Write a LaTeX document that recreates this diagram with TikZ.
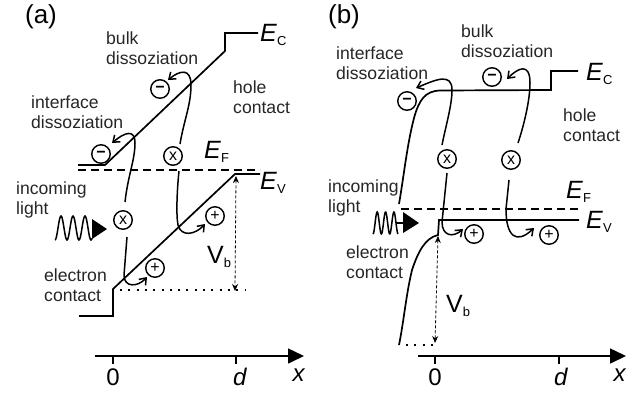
\documentclass[tikz,border=0pt]{standalone}
\usepackage{fontspec}
\setmainfont{Liberation Sans}
\usetikzlibrary{arrows.meta,positioning,calc}
\tikzset{
    band/.style={line width=1.7pt},
    level/.style={line width=1.5pt,dash pattern=on 8pt off 5pt},
    rest/.style={line width=1.7pt,dash pattern=on 2pt off 6.3pt},
    carrier/.style={line width=1.5pt,-{Straight Barb[length=6pt,width=9pt]}},
    exciton/.style={line width=1.5pt},
    bias/.style={line width=0.8pt,densely dashed,{Stealth[length=7pt,width=6pt]}-{Stealth[length=7pt,width=6pt]}},
    axisline/.style={line width=1.6pt,-{Triangle[length=16pt,width=15pt]}},
    tick/.style={line width=1.3pt},
    charge/.style={circle,draw,line width=1.4pt,minimum size=18.5pt,inner sep=0pt,font=\fontsize{16}{16}\selectfont},
    caption/.style={anchor=west,inner sep=0pt,align=left,text=black!85,font=\fontsize{17.6}{20}\selectfont},
    panel/.style={inner sep=0pt,font=\fontsize{26}{26}\selectfont},
    axislabel/.style={inner sep=0pt,font=\fontsize{24}{24}\selectfont}
}
\newcommand{\bandname}[1]{\fontsize{25}{25}\selectfont\textit{E}\raisebox{-4pt}{\fontsize{13}{13}\selectfont #1}}
\begin{document}
\begin{tikzpicture}[x=1pt,y=-1pt]
    \useasboundingbox (0,0) rectangle (636,392);
    % panel (a)
    \node[panel] (la) at (41,17) {(a)};
    \draw[band] (258,33) -- (225,33) -- (225,51) -- (105,165) -- (78,165);
    \draw[level] (78,170) -- (260,170);
    \draw[band] (260,174) -- (235,174) -- (113,289) -- (113,316) -- (79,316);
    \draw[rest] (120,290) -- (245,290);
    \coordinate (topa) at (236,176);
    \coordinate (bota) at (235,291);
    \draw[bias] (topa) -- (bota);
    \node[caption] (bulka) at (106,48) {bulk\\dissoziation};
    \node[caption] (inta) at (31,112) {interface\\dissoziation};
    \node[caption] (hola) at (233,97) {hole\\contact};
    \node[caption] (inca) at (16,200) {incoming\\light};
    \node[caption] (elea) at (44,285) {electron\\contact};
    \node[anchor=west,inner sep=0pt] (eca) at (260,35) {\bandname{C}};
    \node[anchor=west,inner sep=0pt] (efa) at (204,152) {\bandname{F}};
    \node[anchor=west,inner sep=0pt] (eva) at (260,183) {\bandname{V}};
    \node[anchor=west,inner sep=0pt] (vba) at (207,257) {\fontsize{25}{25}\selectfont V\raisebox{-4pt}{\fontsize{13}{13}\selectfont b}};
    \node[charge] (ma) at (160,89) {\textbf{−}};
    \node[charge] (mb) at (101,154) {\textbf{−}};
    \node[charge] (xa) at (173,156) {x};
    \node[charge] (xb) at (123,220) {x};
    \node[charge] (pa) at (215,216) {+};
    \node[charge] (pb) at (155,268) {+};
    \draw[carrier] (xa) ++(7,-12) .. controls (184,120) and (191,105) .. (191,85) .. controls (191,68) and (180,70) .. (168,80);
    \draw[exciton] (xa) ++(6,15) .. controls (177,190) and (176,215) .. (178,225);
    \draw[carrier] (178,225) .. controls (181,237) and (195,235) .. (205,224);
    \draw[carrier] (xb) ++(2,-18) .. controls (128,175) and (135,160) .. (135,143) .. controls (135,129) and (125,132) .. (112,143);
    \draw[exciton] (xb) ++(4,17) -- (124,275);
    \draw[carrier] (124,275) .. controls (124,288) and (138,287) .. (147,277);
    \draw[line width=1.5pt,samples=80,domain=0:37,smooth] plot ({55+\x},{228-12*sin(30*\x-90)});
    \fill (92,219) -- (107,229) -- (92,239) -- cycle;
    \draw[axisline] (95,356) -- (304,356);
    \draw[tick] (113,356) -- (113,364);
    \draw[tick] (236,356) -- (236,364);
    \node[axislabel] (za) at (113,377) {0};
    \node[axislabel] (da) at (240,377) {\textit{d}};
    \node[axislabel] (ra) at (299,375) {\textit{x}};
    % panel (b)
    \node[panel] (lb) at (344,17) {(b)};
    \draw[band] (578,71) -- (551,71) -- (551,90) -- (440,90.5) .. controls (425,91) and (419,100) .. (414,118) .. controls (407,145) and (404,175) .. (399,204);
    \draw[level] (401,209) -- (581,209);
    \draw[band] (579,220) -- (439,220) -- (438,235) .. controls (425,238) and (418,252) .. (412,270) .. controls (406,295) and (404,320) .. (399,345);
    \draw[rest] (406,345) -- (433,345);
    \coordinate (topb) at (438,236);
    \coordinate (botb) at (435,343);
    \draw[bias] (topb) -- (botb);
    \node[caption] (bulkb) at (461,41) {bulk\\dissoziation};
    \node[caption] (intb) at (336,63) {interface\\dissoziation};
    \node[caption] (holb) at (563,125) {hole\\contact};
    \node[caption] (incb) at (328,198) {incoming\\light};
    \node[caption] (eleb) at (346,262) {electron\\contact};
    \node[anchor=west,inner sep=0pt] (ecb) at (586,74) {\bandname{C}};
    \node[anchor=west,inner sep=0pt] (efb) at (566,192) {\bandname{F}};
    \node[anchor=west,inner sep=0pt] (evb) at (586,222) {\bandname{V}};
    \node[anchor=west,inner sep=0pt] (vbb) at (446,306) {\fontsize{25}{25}\selectfont V\raisebox{-4pt}{\fontsize{13}{13}\selectfont b}};
    \node[charge] (mc) at (407,101) {\textbf{−}};
    \node[charge] (md) at (492,77) {\textbf{−}};
    \node[charge] (xc) at (447,159) {x};
    \node[charge] (xd) at (511,160) {x};
    \node[charge] (pc) at (474,234) {+};
    \node[charge] (pd) at (549,235) {+};
    \draw[carrier] (xc) ++(-5,-14) .. controls (446,125) and (452,105) .. (452,90) .. controls (452,72) and (435,80) .. (416,88);
    \draw[exciton] (xc) ++(0,14) -- (442,222);
    \draw[carrier] (442,222) .. controls (442,236) and (453,238) .. (463,229);
    \draw[carrier] (xd) ++(7,-17) .. controls (524,125) and (530,100) .. (530,83) .. controls (530,62) and (518,68) .. (507,79);
    \draw[exciton] (xd) ++(-2,20) -- (506,209);
    \draw[carrier] (506,209) .. controls (506,236) and (516,245) .. (534,228);
    \draw[line width=1.5pt,samples=60,domain=0:25,smooth] plot ({373+\x},{223-11*sin(43*\x-90)});
    \draw[line width=1.5pt] (396,223) -- (405,223);
    \fill (403,212) -- (419,223) -- (403,233) -- cycle;
    \draw[axisline] (418,356) -- (626,356);
    \draw[tick] (435,356) -- (435,364);
    \draw[tick] (559,356) -- (559,364);
    \node[axislabel] (zb) at (435,377) {0};
    \node[axislabel] (db) at (561,377) {\textit{d}};
    \node[axislabel] (rb) at (620,375) {\textit{x}};
\end{tikzpicture}
\end{document}
